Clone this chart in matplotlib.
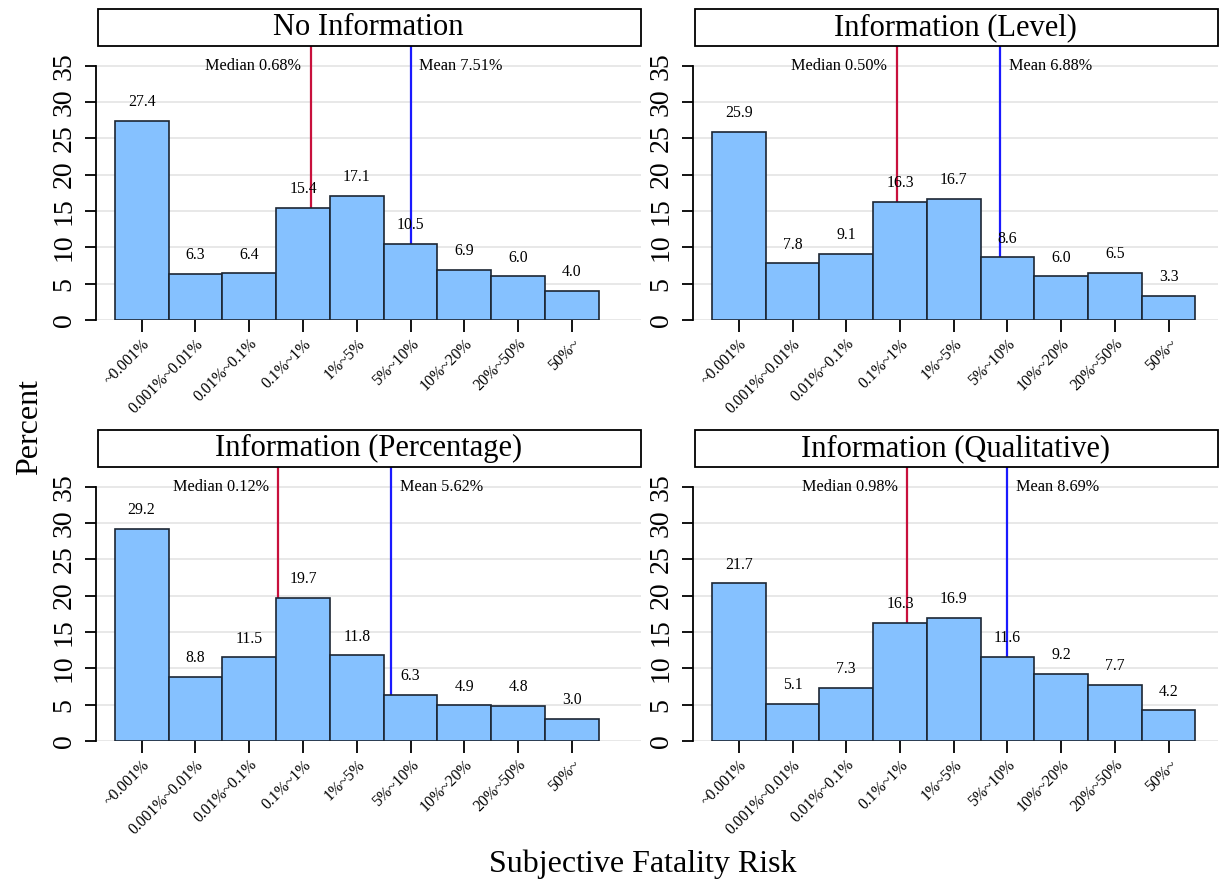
import matplotlib
matplotlib.use('Agg')
import matplotlib.pyplot as plt
from matplotlib.patches import Rectangle

plt.rcParams['font.family'] = ['Liberation Serif', 'DejaVu Serif']

categories = ['~0.001%', '0.001%~0.01%', '0.01%~0.1%', '0.1%~1%', '1%~5%',
              '5%~10%', '10%~20%', '20%~50%', '50%~']

titles = ['No Information', 'Information (Level)',
          'Information (Percentage)', 'Information (Qualitative)']

no_info = [27.4, 6.3, 6.4, 15.4, 17.1, 10.5, 6.9, 6.0, 4.0]
info_level = [25.9, 7.8, 9.1, 16.3, 16.7, 8.6, 6.0, 6.5, 3.3]
info_pct = [29.2, 8.8, 11.5, 19.7, 11.8, 6.3, 4.9, 4.8, 3.0]
info_qual = [21.7, 5.1, 7.3, 16.3, 16.9, 11.6, 9.2, 7.7, 4.2]

medians = [0.68, 0.50, 0.12, 0.98]
means = [7.51, 6.88, 5.62, 8.69]
# where the reference lines sit on the category axis
median_pos = [3.15, 2.94, 2.54, 3.14]
mean_pos = [5.01, 4.87, 4.64, 5.00]

series = [no_info, info_level, info_pct, info_qual]

# axes rectangles (figure fraction) and x limits per column
rects = [(0.0787, 0.6376, 0.4467, 0.3103),
         (0.5680, 0.6376, 0.4303, 0.3103),
         (0.0787, 0.1608, 0.4467, 0.3103),
         (0.5680, 0.1608, 0.4303, 0.3103)]
xlims = [(-0.848, 9.285), (-0.854, 8.92), (-0.848, 9.285), (-0.854, 8.92)]

fig = plt.figure(figsize=(12.2, 8.83), dpi=100)

for i in range(4):
    ax = fig.add_axes(rects[i])
    vals = series[i]
    x = list(range(len(categories)))

    for g in range(0, 36, 5):
        ax.axhline(g, color='#e4e4e4', lw=1.2, zorder=0)

    ax.axvline(median_pos[i], color='#c8103c', lw=1.6, zorder=1)
    ax.axvline(mean_pos[i], color='#1a1aff', lw=1.6, zorder=1)

    ax.bar(x, vals, width=1.0, color='#85c1ff', edgecolor='#1c2633',
           linewidth=1.2, zorder=2)

    for xi, v in zip(x, vals):
        ax.annotate('%.1f' % v, (xi, v), xytext=(0, 13.5),
                    textcoords='offset points', ha='center', va='center',
                    fontsize=11.3, zorder=4)

    ax.annotate('Median %.2f%%' % medians[i], (median_pos[i], 34.9),
                xytext=(-7, 0), textcoords='offset points',
                ha='right', va='center', fontsize=11.7)
    ax.annotate('Mean %.2f%%' % means[i], (mean_pos[i], 34.9),
                xytext=(6, 0), textcoords='offset points',
                ha='left', va='center', fontsize=11.7)

    ax.set_xlim(*xlims[i])
    ax.set_ylim(0, 37.7)

    for s in ['top', 'right', 'bottom']:
        ax.spines[s].set_visible(False)
    ax.spines['left'].set_bounds(0, 35)
    ax.spines['left'].set_linewidth(1.3)

    ax.set_yticks(range(0, 36, 5))
    ax.set_yticklabels([str(t) for t in range(0, 36, 5)], rotation=90,
                       va='center', fontsize=20)
    ax.set_xticks(x)
    ax.set_xticklabels(categories, rotation=45, ha='right',
                       rotation_mode='anchor', fontsize=11.3)
    ax.tick_params(axis='y', length=8, width=1.3, pad=6)
    ax.tick_params(axis='x', length=8.4, width=1.3, pad=3)

    # title strip above each panel
    h = 37 / 274
    ax.add_patch(Rectangle((0.003, 1.0), 0.997, h, transform=ax.transAxes,
                           clip_on=False, fill=False, lw=1.3,
                           edgecolor='black'))
    ax.text(0.5, 1 + h / 2, titles[i], transform=ax.transAxes,
            ha='center', va='center', fontsize=22)

fig.text(30 / 1220, 1 - 427 / 883, 'Percent', rotation=90,
         ha='center', va='center', fontsize=23)
fig.text(643 / 1220, 1 - 864 / 883, 'Subjective Fatality Risk',
         ha='center', va='center', fontsize=23)

plt.savefig('out.png', dpi=100)
